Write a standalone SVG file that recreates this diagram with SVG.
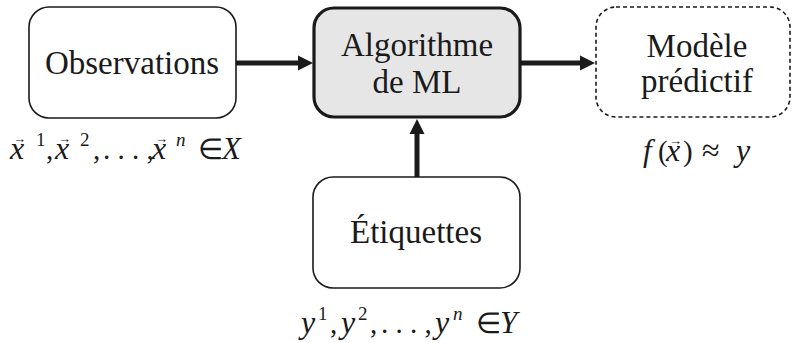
<svg xmlns="http://www.w3.org/2000/svg" width="793" height="343" viewBox="0 0 793 343">
<rect width="793" height="343" fill="#fff"/>
<g id="connectors" fill="#1a1a1a" stroke="#1a1a1a">
<line stroke-width="5" x1="236" y1="63" x2="300" y2="63"/>
<polygon stroke="none" points="298,55.5 313,63 298,70.5"/>
<line stroke-width="5" x1="521" y1="63" x2="582" y2="63"/>
<polygon stroke="none" points="580,55.5 595,63 580,70.5"/>
<line stroke-width="5" x1="417" y1="177" x2="417" y2="132"/>
<polygon stroke="none" points="409.5,134 417,119 424.5,134"/>
</g>
<g id="observations" fill="#1a1a1a">
<rect fill="#fff" stroke="#1a1a1a" stroke-width="1.6" x="29" y="7" width="207" height="111" rx="20"/>
<text font-family="Liberation Serif" font-size="33" text-anchor="middle" x="132" y="74">Observations</text>
<text font-family="Liberation Serif" font-size="32" font-style="italic" x="10" y="159">x</text>
<text font-family="Liberation Serif" font-size="13" x="13" y="143">&#8594;</text>
<text font-family="Liberation Serif" font-size="19" x="36" y="146">1</text>
<text font-family="Liberation Serif" font-size="29" x="46" y="159">,</text>
<text font-family="Liberation Serif" font-size="32" font-style="italic" x="55" y="159">x</text>
<text font-family="Liberation Serif" font-size="13" x="58" y="143">&#8594;</text>
<text font-family="Liberation Serif" font-size="19" x="80" y="146">2</text>
<text font-family="Liberation Serif" font-size="29" x="93" y="159">,</text>
<text font-family="Liberation Serif" font-size="29" x="103" y="159">. . . ,</text>
<text font-family="Liberation Serif" font-size="32" font-style="italic" x="152" y="159">x</text>
<text font-family="Liberation Serif" font-size="13" x="155" y="143">&#8594;</text>
<text font-family="Liberation Serif" font-size="19" font-style="italic" x="176" y="146">n</text>
<text font-family="Liberation Serif" font-size="29" x="198" y="159">&#8712;</text>
<text font-family="Liberation Serif" font-size="31" font-style="italic" x="222" y="159">X</text>
</g>
<g id="algorithme" fill="#1a1a1a">
<rect fill="#e6e6e6" stroke="#1a1a1a" stroke-width="3.2" x="314" y="8" width="206" height="109" rx="20"/>
<text font-family="Liberation Serif" font-size="33" text-anchor="middle" x="417" y="56">Algorithme</text>
<text font-family="Liberation Serif" font-size="33" text-anchor="middle" x="417" y="93">de ML</text>
</g>
<g id="modele" fill="#1a1a1a">
<rect fill="#fff" stroke="#1a1a1a" stroke-width="1.6" stroke-dasharray="4 3" x="596" y="7" width="194" height="110" rx="20"/>
<text font-family="Liberation Serif" font-size="33" text-anchor="middle" x="697" y="57">Mod&#232;le</text>
<text font-family="Liberation Serif" font-size="33" text-anchor="middle" x="697" y="92">pr&#233;dictif</text>
<text font-family="Liberation Serif" font-size="31" font-style="italic" x="643" y="161">f</text>
<text font-family="Liberation Serif" font-size="29" x="658" y="161">(</text>
<text font-family="Liberation Serif" font-size="32" font-style="italic" x="666" y="161">x</text>
<text font-family="Liberation Serif" font-size="13" x="669" y="145">&#8594;</text>
<text font-family="Liberation Serif" font-size="29" x="683" y="161">)</text>
<text font-family="Liberation Serif" font-size="32" x="702" y="161">&#8776;</text>
<text font-family="Liberation Serif" font-size="32" font-style="italic" x="736" y="161">y</text>
</g>
<g id="etiquettes" fill="#1a1a1a">
<rect fill="#fff" stroke="#1a1a1a" stroke-width="1.6" x="313" y="177" width="207" height="111" rx="20"/>
<text font-family="Liberation Serif" font-size="33" text-anchor="middle" x="416" y="243">&#201;tiquettes</text>
<text font-family="Liberation Serif" font-size="32" font-style="italic" x="301" y="333">y</text>
<text font-family="Liberation Serif" font-size="19" x="318" y="320">1</text>
<text font-family="Liberation Serif" font-size="29" x="330" y="333">,</text>
<text font-family="Liberation Serif" font-size="32" font-style="italic" x="341" y="333">y</text>
<text font-family="Liberation Serif" font-size="19" x="358" y="320">2</text>
<text font-family="Liberation Serif" font-size="29" x="370" y="333">,</text>
<text font-family="Liberation Serif" font-size="29" x="381" y="333">. . . ,</text>
<text font-family="Liberation Serif" font-size="32" font-style="italic" x="435" y="333">y</text>
<text font-family="Liberation Serif" font-size="19" font-style="italic" x="453" y="320">n</text>
<text font-family="Liberation Serif" font-size="29" x="476" y="333">&#8712;</text>
<text font-family="Liberation Serif" font-size="31" font-style="italic" x="500" y="333">Y</text>
</g>
</svg>
